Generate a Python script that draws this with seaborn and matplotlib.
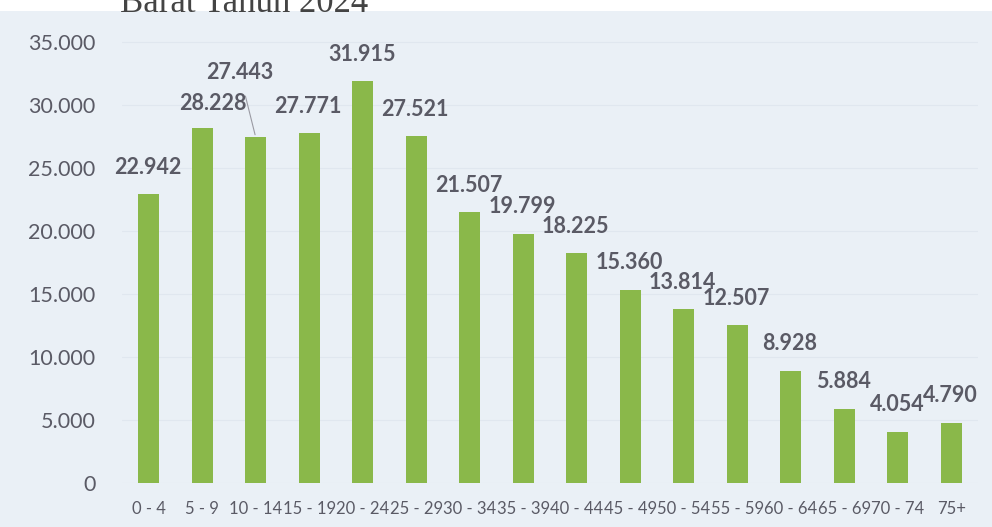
import matplotlib
matplotlib.use("Agg")
import matplotlib.pyplot as plt
import seaborn as sns
import pandas as pd
from matplotlib.patches import Rectangle

# ---- data ----
age_groups = ["0 - 4", "5 - 9", "10 - 14", "15 - 19", "20 - 24", "25 - 29", "30 - 34",
              "35 - 39", "40 - 44", "45 - 49", "50 - 54", "55 - 59", "60 - 64",
              "65 - 69", "70 - 74", "75+"]
population = [22942, 28228, 27443, 27771, 31915, 27521, 21507, 19799, 18225,
              15360, 13814, 12507, 8928, 5884, 4054, 4790]
y_ticks = [0, 5000, 10000, 15000, 20000, 25000, 30000, 35000]
title_text = "Barat Tahun 2024"

df = pd.DataFrame({"age": age_groups, "pop": population})

def fmt(v):
    return f"{v:,}".replace(",", ".")

sns.set_theme(style="white")
plt.rcParams["font.family"] = ["Lato", "DejaVu Sans"]

BG = "#eaf0f6"
GREEN = "#8ab84a"
TXT = "#5a5a65"

fig = plt.figure(figsize=(9.92, 5.27), dpi=100, facecolor=BG)
ax = fig.add_axes([122 / 992, (527 - 483) / 527, 856 / 992, 471 / 527])
ax.set_facecolor(BG)

sns.barplot(data=df, x="age", y="pop", color=GREEN, width=0.4, saturation=1,
            linewidth=0, edgecolor="none", ax=ax, zorder=3)

ax.set_ylim(0, 37400)
ax.set_xlim(-0.5, len(age_groups) - 0.5)
ax.set_yticks(y_ticks)
ax.set_yticklabels([fmt(v) for v in y_ticks])
ax.tick_params(axis="y", length=0, pad=19, labelsize=15.5, labelcolor=TXT)
ax.tick_params(axis="x", length=0, pad=13, labelsize=12, labelcolor=TXT)
ax.set_xlabel("")
ax.set_ylabel("")
ax.yaxis.grid(True, color="#e0e7ef", linewidth=0.8, zorder=0)
for s in ax.spines.values():
    s.set_visible(False)

# data labels (pixel offsets for Excel-style placement)
label_shift = {1: (12, -3), 2: (-15, 38)}
for i, v in enumerate(population):
    dx, dy = label_shift.get(i, (0, 0))
    ax.annotate(fmt(v), xy=(i, v), xytext=(-1 + dx, 27 + dy),
                textcoords="offset pixels", ha="center", va="center",
                fontsize=15.5, fontweight="bold", color=TXT, zorder=5)
# leader line for the moved label
ax.annotate("", xy=(2, population[2]), xytext=(-11, 44),
            textcoords="offset pixels",
            arrowprops=dict(arrowstyle="-", color="#9a9aa3", lw=0.8))

# white strip at the top with cut-off title
fig.patches.append(Rectangle((0, 1 - 11 / 527), 1, 11 / 527, transform=fig.transFigure,
                             facecolor="white", edgecolor="none", zorder=0))
fig.text(120 / 992, 1 - 12 / 527, title_text, family=["Liberation Serif", "DejaVu Serif"],
         fontsize=25, color="#444444", ha="left", va="baseline")

fig.savefig("out.png", dpi=100, facecolor=BG)
